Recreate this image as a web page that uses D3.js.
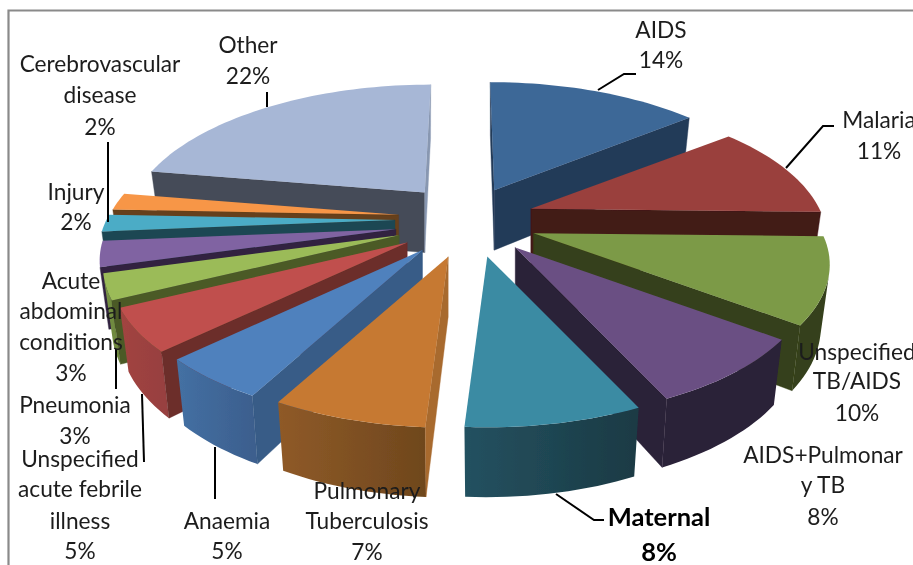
<!DOCTYPE html>
<html><head><meta charset="utf-8">
<script src="https://cdn.jsdelivr.net/npm/d3@7"></script>
<style>html,body{margin:0;padding:0;background:#fff;overflow:hidden}svg{display:block}</style>
</head><body><svg id="c" width="913" height="565"></svg>
<script>
// Data, in pie order (clockwise from 12 o'clock)
const categories = ["AIDS","Malaria","Unspecified TB/AIDS","AIDS+Pulmonary TB","Maternal","Pulmonary Tuberculosis","Anaemia","Unspecified acute febrile illness","Pneumonia","Acute abdominal conditions","Injury","Cerebrovascular disease","Other"];
const shares = [14,11,10,8,8,7,5,5,3,3,2,2,22];
// Styling per slice
const topColors = ["#3e6897","#9a403c","#7c9a47","#6a5083","#3a8ba3","#c67932","#4f81bd","#c0504d","#9bbb59","#8064a2","#4bacc6","#f79646","#a7b7d6"];
const wallLight = ["#2f4c70","#6e2e2b","#35411a","#2a2038","#245160","#8f5a28","#4470a3","#a24441","#7f9a49","#5f4a78","#2f6f80","#b06a30","#8897b1"];
const wallDark  = ["#243b59","#431a17","#35411a","#2a2038","#1a3a44","#6f471d","#3c5f8e","#984040","#6f8a3f","#54406c","#28606f","#9c5d28","#8897b1"];
const startColors = ["#243b59","#431a17","#35411a","#2a2038","#2b6577","#a86a2f","#375b87","#6c2d2b","#4b5a27","#30233f","#1f4652","#663f1a","#454b58"];
const endColors   = ["#243b59","#431a17","#35411a","#2a2038","#2b6577","#a86a2f","#375b87","#6c2d2b","#4b5a27","#30233f","#1f4652","#663f1a","#8897b1"];
// Small per-slice placement corrections of the exploded pieces (pixels), and lean of the 12 o'clock edges
const nudgeX = [-2,-2,0,4,8,2,0,0,0,0,0,3,4];
const nudgeY = [-4,-4,-1,-2,0,1,0,0,0,0,-4,-5,-6];
const lean   = [-4,0,0,0,0,0,0,0,0,0,0,0,6];
// Label text, split into lines
const labelLines = [["AIDS","14%"],["Malaria","11%"],["Unspecified","TB/AIDS","10%"],["AIDS+Pulmonar","y TB","8%"],["Maternal","8%"],["Pulmonary","Tuberculosis","7%"],["Anaemia","5%"],["Unspecified","acute febrile","illness","5%"],["Pneumonia","3%"],["Acute","abdominal","conditions","3%"],["Injury","2%"],["Cerebrovascular","disease","2%"],["Other","22%"]];
// Label layout: centre x and the y centre of every line
const labelX = [661,879,857,823,659,367,227,80,75,71,76,100,248];
const labelY = [[30,60],[120,151],[352,381,413],[455,485,517],[517,552],[491,521,552],[521,551],[459,489,521,551],[405,436],[281,311,342,373],[192,222],[64,95,127],[45,76]];
const leaders = [
 [[598,90],[624,74],[636,74]],
 [[786,168],[823,126],[834,126]],
 [[556,494],[594,520],[604,520]],
 [[215,447],[215,499]],
 [[142,394],[144,462]],
 [[116,349],[116,389]],
 [[108,142],[108,222]],
 [[267,92],[267,107]]
];

const svg = d3.select("#c");
const defs = svg.append("defs");
defs.append("filter").attr("id","soft").attr("x","-5%").attr("y","-5%").attr("width","110%").attr("height","110%")
  .append("feGaussianBlur").attr("stdDeviation",0.45);
const root = svg.append("g").attr("filter","url(#soft)");

// frame
root.append("path").attr("d","M8.5,565V10.5H913").attr("fill","none").attr("stroke","#8a8a8a").attr("stroke-width",2.2);

// Projection of the tilted disk
const center = {x:466,y:224}, explode = {x:71,y:33};
const disk = {a:290,b:133,c:3,p:0.204};
const depth = {base:60, sx:0.97, sy:1.058};
function local(t){
  const w = 1 + disk.p*Math.cos(t);
  return {x: disk.a*Math.sin(t)/w, y:(-disk.b*Math.cos(t)+disk.c)/w};
}
const pieGen = d3.pie().sort(null).value(d=>d).startAngle(0).endAngle(2*Math.PI);
const arcs = pieGen(shares);
const line = d3.line().x(d=>d[0]).y(d=>d[1]);

const slices = arcs.map((a,i)=>{
  const mid = (a.startAngle+a.endAngle)/2;
  const ax = center.x + explode.x*Math.sin(mid) + nudgeX[i], ay = center.y - explode.y*Math.cos(mid) + nudgeY[i];
  const n = Math.max(4, Math.ceil((a.endAngle-a.startAngle)/0.03));
  const ang = d3.range(n+1).map(k=>a.startAngle+(a.endAngle-a.startAngle)*k/n);
  const rim = ang.map(t=>{
    const l=local(t);
    const lx=l.x+lean[i]*Math.max(0,-l.y)/108;
    return [ax+lx, ay+l.y, ax+lx*depth.sx, ay+l.y*depth.sy+depth.base];
  });
  return {i,mid,ax,ay,rim,order:Math.cos(mid)};
}).sort((p,q)=>q.order-p.order);

// negative when the polygon runs anticlockwise on screen, i.e. its outside faces the viewer
function area2(pts){let s=0;pts.forEach((p,k)=>{const q=pts[(k+1)%pts.length];s+=p[0]*q[1]-q[0]*p[1];});return s;}

slices.forEach(s=>{
  const g = root.append("g").attr("class","slice").attr("data-name",categories[s.i]);
  const top=s.rim.map(r=>[r[0],r[1]]), bot=s.rim.map(r=>[r[2],r[3]]);
  const apexTop=[s.ax,s.ay], apexBot=[s.ax,s.ay+depth.base];
  const xs=d3.extent(top,d=>d[0]);
  const gid="w"+s.i;
  const gr=defs.append("linearGradient").attr("id",gid).attr("gradientUnits","userSpaceOnUse")
    .attr("x1",xs[0]).attr("x2",xs[1]).attr("y1",0).attr("y2",0);
  gr.append("stop").attr("offset",0).attr("stop-color",wallLight[s.i]);
  gr.append("stop").attr("offset",1).attr("stop-color",wallDark[s.i]);
  // outer wall: contiguous viewer-facing segments drawn as single polygons, so no seams
  let run=[];
  const flush=()=>{
    if(run.length){
      const lo=run[0], hi=run[run.length-1]+1;
      const poly=[...top.slice(lo,hi+1),...bot.slice(lo,hi+1).reverse()];
      g.append("path").attr("d",line(poly)+"Z").attr("fill",`url(#${gid})`);
      run=[];
    }
  };
  for(let k=0;k<top.length-1;k++){
    const q=[top[k],top[k+1],bot[k+1],bot[k]];
    if(area2(q)<0) run.push(k); else flush();
  }
  flush();
  const startQ=[apexTop,top[0],bot[0],apexBot];
  const endQ=[top[top.length-1],apexTop,apexBot,bot[bot.length-1]];
  if(area2(startQ)<0) g.append("path").attr("d",line(startQ)+"Z").attr("fill",startColors[s.i]).attr("stroke",startColors[s.i]).attr("stroke-width",0.4);
  if(area2(endQ)<0) g.append("path").attr("d",line(endQ)+"Z").attr("fill",endColors[s.i]).attr("stroke",endColors[s.i]).attr("stroke-width",0.4);
  g.append("path").attr("d",line([apexTop,...top])+"Z").attr("fill",topColors[s.i]);
});

// leader lines
root.append("g").selectAll("path").data(leaders).join("path")
  .attr("d",d=>line(d)).attr("fill","none").attr("stroke","#000").attr("stroke-width",2);

// labels
labelLines.forEach((lines,i)=>{
  const bold = categories[i]==="Maternal";
  lines.forEach((t,k)=>{
    root.append("text").attr("x",labelX[i]).attr("y",labelY[i][k]).attr("dy","0.35em")
      .attr("text-anchor","middle").attr("font-family","Lato, 'Open Sans', sans-serif")
      .attr("font-size",bold?25.5:22.7).attr("font-weight",bold?700:400).attr("fill",bold?"#000":"#1c1c1c").text(t);
  });
});
</script></body></html>
